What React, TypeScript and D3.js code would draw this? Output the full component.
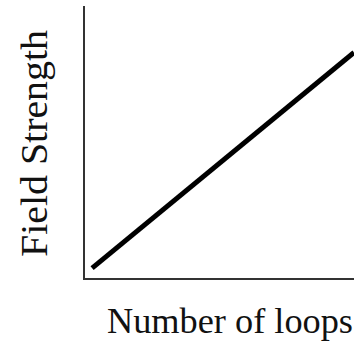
import React from "react";
import * as d3 from "d3";

const W = 354;
const H = 347;

// Axis domain
const xDomain = [0, 10];
const yDomain = [0, 10];

// Relationship line: field strength rises linearly with loop count
const loops = [0.3, 10];
const fieldStrength = [0.4, 8.3];

const xLabel = "Number of loops";
const yLabel = "Field Strength";

const labelFont = "'Liberation Serif', 'Times New Roman', serif";

export default function App() {
  const x = d3.scaleLinear().domain(xDomain).range([84, 354]);
  const y = d3.scaleLinear().domain(yDomain).range([279, 6]);

  const points = loops.map((v, i) => [v, fieldStrength[i]] as [number, number]);
  const line = d3
    .line<[number, number]>()
    .x((d) => x(d[0]))
    .y((d) => y(d[1]));

  return (
    <svg
      width={W}
      height={H}
      style={{ position: "absolute", left: 0, top: 0, background: "#fff" }}
    >
      {/* axes */}
      <line x1={x(0)} x2={x(0)} y1={y(10)} y2={y(0)} stroke="#333" strokeWidth={2} />
      <line x1={x(0) - 1} x2={x(10)} y1={y(0)} y2={y(0)} stroke="#333" strokeWidth={2} />

      <path d={line(points) || ""} fill="none" stroke="#000" strokeWidth={5} />

      <text
        x={107}
        y={333}
        style={{ fontFamily: labelFont, fontSize: 36 }}
        fill="#111"
        textLength={246}
        lengthAdjust="spacingAndGlyphs"
      >
        {xLabel}
      </text>
      <text
        transform={`translate(47,257) rotate(-90)`}
        style={{ fontFamily: labelFont, fontSize: 38 }}
        fill="#111"
        textLength={227}
        lengthAdjust="spacingAndGlyphs"
      >
        {yLabel}
      </text>
    </svg>
  );
}
